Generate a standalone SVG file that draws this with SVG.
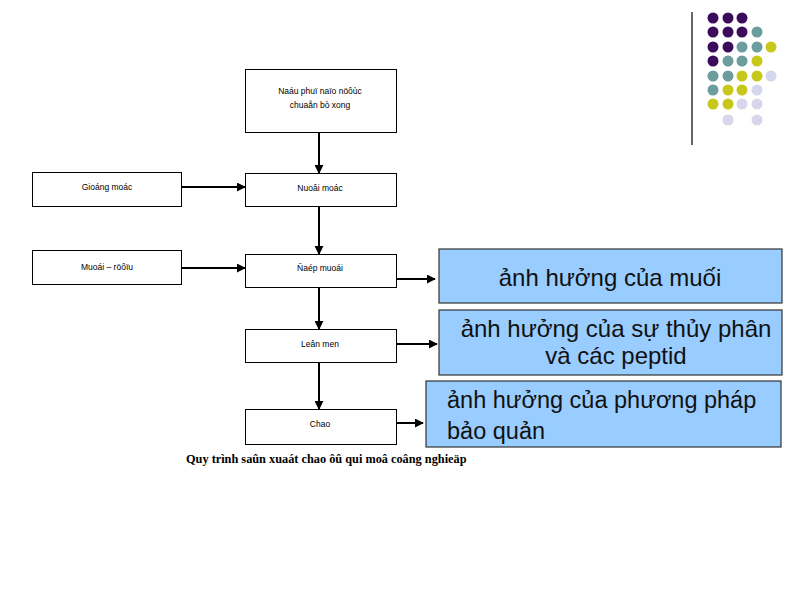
<svg xmlns="http://www.w3.org/2000/svg" width="794" height="595" viewBox="0 0 794 595">
<style>
.box{fill:#fff;stroke:#000;stroke-width:1}
.blue{fill:#99ccff;stroke:#333;stroke-width:1.2}
.sm{font-family:"Liberation Sans","DejaVu Sans",sans-serif;font-size:8.5px;fill:#000;text-anchor:middle}
.big{font-family:"Liberation Sans",Arial,sans-serif;font-size:24px;fill:#111}
.cap{font-family:"Liberation Serif","Times New Roman",serif;font-size:12.3px;font-weight:bold;fill:#000}
.ln{stroke:#000;stroke-width:2;fill:none;marker-end:url(#ah)}
.P{fill:#3b0c5c}.T{fill:#6b9c9e}.Y{fill:#c8c81c}.L{fill:#d6d6ec}
</style>
<defs>
<marker id="ah" viewBox="0 0 10 10" refX="9" refY="5" markerWidth="4.5" markerHeight="4.5" orient="auto" markerUnits="strokeWidth">
<path d="M0,0 L10,5 L0,10 z" fill="#000"/>
</marker>
</defs>
<rect width="794" height="595" fill="#fff"/>

<g id="decor">
<line x1="692" y1="12" x2="692" y2="145" stroke="#000" stroke-width="1.2"/>
<g>
<circle class="P" cx="713" cy="18" r="5.5"/><circle class="P" cx="728" cy="18" r="5.5"/><circle class="P" cx="742" cy="18" r="5.5"/>
<circle class="P" cx="713" cy="32" r="5.5"/><circle class="P" cx="728" cy="32" r="5.5"/><circle class="P" cx="742" cy="32" r="5.5"/><circle class="T" cx="757" cy="32" r="5.5"/>
<circle class="P" cx="713" cy="47" r="5.5"/><circle class="P" cx="728" cy="47" r="5.5"/><circle class="T" cx="742" cy="47" r="5.5"/><circle class="T" cx="757" cy="47" r="5.5"/><circle class="Y" cx="771" cy="47" r="5.5"/>
<circle class="P" cx="713" cy="61" r="5.5"/><circle class="T" cx="728" cy="61" r="5.5"/><circle class="T" cx="742" cy="61" r="5.5"/><circle class="Y" cx="757" cy="61" r="5.5"/>
<circle class="T" cx="713" cy="76" r="5.5"/><circle class="T" cx="728" cy="76" r="5.5"/><circle class="Y" cx="742" cy="76" r="5.5"/><circle class="Y" cx="757" cy="76" r="5.5"/><circle class="L" cx="771" cy="76" r="5.5"/>
<circle class="T" cx="713" cy="90" r="5.5"/><circle class="Y" cx="728" cy="90" r="5.5"/><circle class="Y" cx="742" cy="90" r="5.5"/><circle class="L" cx="757" cy="90" r="5.5"/>
<circle class="Y" cx="713" cy="104" r="5.5"/><circle class="Y" cx="728" cy="104" r="5.5"/><circle class="L" cx="742" cy="104" r="5.5"/><circle class="L" cx="757" cy="104" r="5.5"/>
<circle class="L" cx="728" cy="120" r="5.5"/><circle class="L" cx="757" cy="120" r="5.5"/>
</g>
</g>

<g id="connectors">
<line class="ln" x1="319" y1="133" x2="319" y2="173"/>
<line class="ln" x1="319" y1="207" x2="319" y2="254"/>
<line class="ln" x1="319" y1="288" x2="319" y2="329"/>
<line class="ln" x1="319" y1="363" x2="319" y2="409"/>
<line class="ln" x1="182" y1="187" x2="245" y2="187"/>
<line class="ln" x1="182" y1="268" x2="245" y2="268"/>
<line class="ln" x1="396" y1="279" x2="435" y2="279"/>
<line class="ln" x1="397" y1="344" x2="437" y2="344"/>
<line class="ln" x1="386" y1="423" x2="423" y2="423"/>
</g>

<g id="n1"><rect class="box" x="245.5" y="69.5" width="151" height="63"/>
<text class="sm" x="320" y="94">Naáu phuï naïo nöôùc</text>
<text class="sm" x="320" y="108">chuaån bò xong</text></g>
<g id="n2"><rect class="box" x="245.5" y="173.5" width="151" height="33"/><text class="sm" x="320" y="191">Nuoâi moác</text></g>
<g id="n3"><rect class="box" x="32.5" y="172.5" width="149" height="34"/><text class="sm" x="107" y="190">Gioáng moác</text></g>
<g id="n4"><rect class="box" x="32.5" y="250.5" width="149" height="34"/><text class="sm" x="107" y="270">Muoái – röôïu</text></g>
<g id="n5"><rect class="box" x="245.5" y="254.5" width="151" height="33"/><text class="sm" x="320" y="271">Ñaép muoái</text></g>
<g id="n6"><rect class="box" x="245.5" y="329.5" width="151" height="33"/><text class="sm" x="320" y="347">Leân men</text></g>
<g id="n7"><rect class="box" x="245.5" y="409.5" width="151" height="35"/><text class="sm" x="320" y="427">Chao</text></g>

<g id="b1"><rect class="blue" x="439" y="249" width="343" height="54"/>
<text class="big" x="610" y="286" text-anchor="middle">ảnh hưởng của muối</text></g>
<g id="b2"><rect class="blue" x="439" y="310" width="343" height="65"/>
<text class="big" x="616" y="337" text-anchor="middle">ảnh hưởng của sự thủy phân</text>
<text class="big" x="616" y="364" text-anchor="middle">và các peptid</text></g>
<g id="b3"><rect class="blue" x="426" y="381" width="355" height="66"/>
<text class="big" x="447" y="408" style="font-size:23.5px">ảnh hưởng của phương pháp</text>
<text class="big" x="447" y="439" style="font-size:23.5px">bảo quản</text></g>

<text class="cap" x="186" y="463">Quy trình saûn xuaát chao ôû qui moâ coâng nghieäp</text>
</svg>
